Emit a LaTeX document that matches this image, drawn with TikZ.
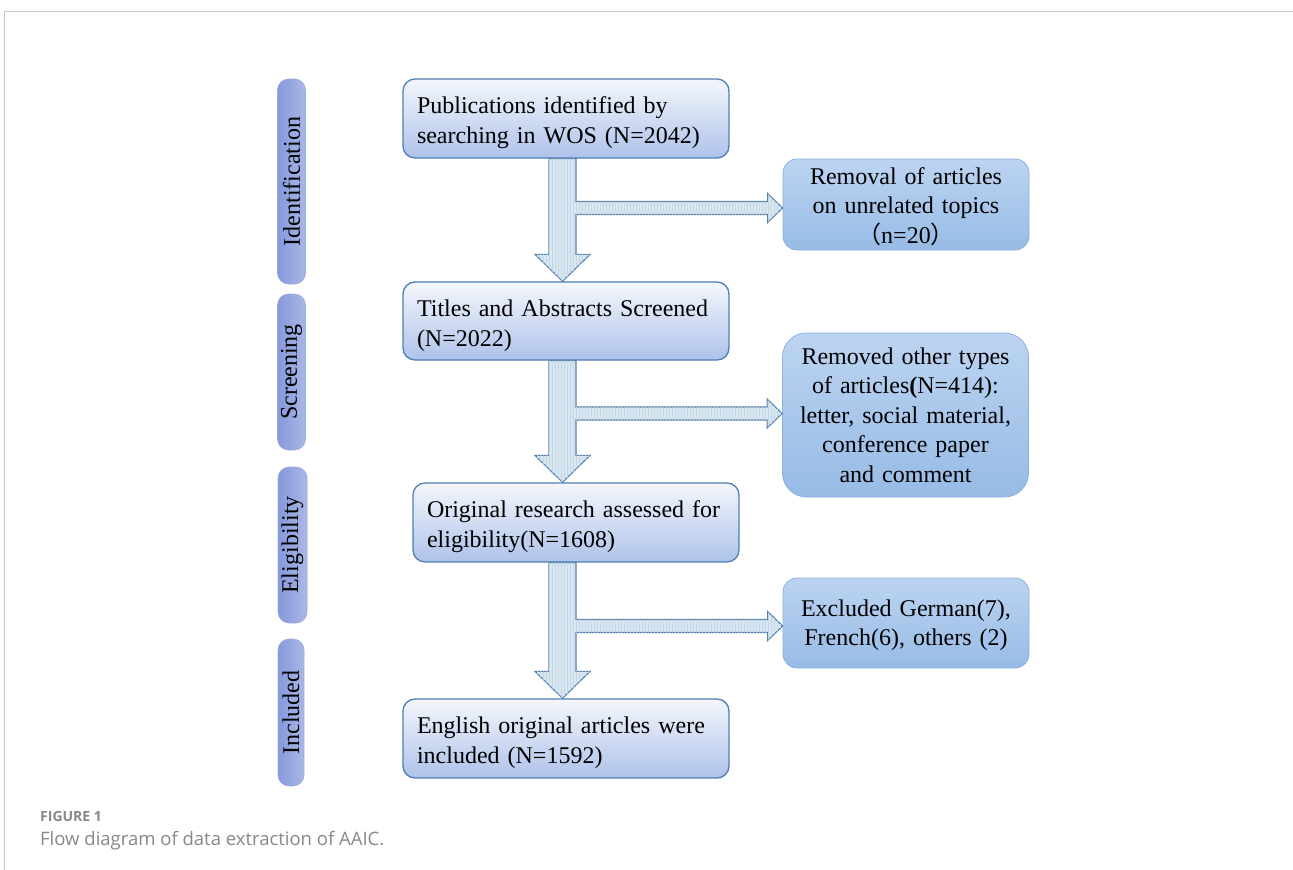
\documentclass[tikz,border=0pt]{standalone}
\usepackage{fontspec}
\setmainfont{Liberation Serif}
\newfontfamily\cjk{Noto Sans CJK SC}
\newfontfamily\capfont{Open Sans}
\usetikzlibrary{calc,patterns}
\definecolor{boxline}{HTML}{4F7FB4}
\definecolor{boxtop}{HTML}{F4F7FC}
\definecolor{boxbot}{HTML}{AEC2EA}
\definecolor{sideline}{HTML}{8AB0E0}
\definecolor{sidetop}{HTML}{BCD4F1}
\definecolor{sidebot}{HTML}{97BBE6}
\definecolor{pillline}{HTML}{9AAAE0}
\definecolor{pilltop}{HTML}{AAB8E6}
\definecolor{pillbot}{HTML}{8599DB}
\definecolor{arrline}{HTML}{5780AD}
\definecolor{arrfill}{HTML}{D9E7F0}
\definecolor{arrhatch}{HTML}{C4D7E6}
\definecolor{framec}{HTML}{C8C8C8}
\definecolor{capgray}{HTML}{888888}
\newcommand\flowarrow[3]{%
  \draw[blockarrow] ($(ax|-#1.south)+(-13.5,0)$) -- ($(ax|-#1.south)+(13.5,0)$)
    -- ($(ax|-#3)+(13.5,-6.5)$) -- ($(#3)+(-15,-6.5)$) -- ($(#3)+(-15,-14.5)$)
    -- (#3) -- ($(#3)+(-15,14.5)$) -- ($(#3)+(-15,6.5)$) -- ($(ax|-#3)+(13.5,6.5)$)
    -- ($(ax|-#2.north)+(13.5,-27)$) -- ($(ax|-#2.north)+(27.5,-27)$)
    -- (ax|-#2.north) -- ($(ax|-#2.north)+(-27.5,-27)$)
    -- ($(ax|-#2.north)+(-13.5,-27)$) -- cycle;}
\newcommand\toprule{\rule{0pt}{26pt}}
\begin{document}
\begin{tikzpicture}[x=1pt,y=-1pt,
  mainbox/.style={draw=boxline, line width=1.3pt, rounded corners=12pt,
    top color=boxtop, bottom color=boxbot, minimum width=326pt,
    minimum height=79pt, text width=298pt, align=left, inner sep=0pt,
    font=\fontsize{24}{30}\selectfont},
  sidebox/.style={draw=sideline, line width=0.8pt, rounded corners=14pt,
    top color=sidetop, bottom color=sidebot, minimum width=246pt,
    text width=236pt, align=center, inner sep=0pt,
    font=\fontsize{24}{29.5}\selectfont},
  pill/.style={draw=pillline, line width=0.6pt, rounded corners=11pt,
    right color=pilltop, left color=pillbot, rotate=90,
    minimum height=28pt, inner sep=0pt, font=\fontsize{24}{28}\selectfont},
  blockarrow/.style={draw=arrline, fill=arrfill, line width=1.1pt, line join=miter,
    postaction={pattern=vertical lines, pattern color=arrhatch}},
  caplabel/.style={anchor=base west, text=capgray, inner sep=0pt}]
\useasboundingbox (0,0) rectangle (1293,870);
\fill[white] (0,0) rectangle (1293,870);
\draw[framec, line width=0.8pt] (4,870) -- (4,11) -- (1293,11);

% stage pills
\node[pill, minimum width=205pt] (p1) at (291.5,181.5) {Identification};
\node[pill, minimum width=156pt] (p2) at (291.5,372) {Screening};
\node[pill, minimum width=156pt, minimum height=29pt] (p3) at (292.5,545) {Eligibility};
\node[pill, minimum width=147pt, minimum height=26pt] (p4) at (291,712.5) {Included};

% main boxes
\node[mainbox] (b1) at (566,118.5) {\mbox{\toprule Publications identified by}\\\mbox{searching in WOS (N=2042)}};
\node[mainbox, minimum height=78pt] (b2) at (566,321) {\mbox{\toprule Titles and Abstracts Screened}\\\mbox{(N=2022)}};
\node[mainbox] (b3) at (576,522.5) {\mbox{\toprule Original research assessed for}\\\mbox{eligibility(N=1608)}};
\node[mainbox] (b4) at (566,738.5) {\mbox{\toprule English original articles were}\\\mbox{included (N=1592)}};

% side boxes
\node[sidebox, minimum height=91pt] (s1) at (906,204.5) {\rule{0pt}{21pt}Removal of articles\\on unrelated topics\\{\cjk （}n=20{\cjk ）}};
\node[sidebox, minimum height=164pt, rounded corners=24pt] (s2) at (905.5,415) {Removed other types\\of articles\textbf{(}N=414):\\letter, social material,\\conference paper\\and comment};
\node[sidebox, minimum height=90pt] (s3) at (906,623) {\rule{0pt}{21pt}Excluded German(7),\\French(6), others (2)};

% arrows
\coordinate (ax) at (562.5,0);
\coordinate (t1) at ($(s1.west)+(0,3.5)$);
\coordinate (t2) at ($(s2.west)+(0,-1.5)$);
\coordinate (t3) at ($(s3.west)+(0,3)$);
\flowarrow{b1}{b2}{t1}
\flowarrow{b2}{b3}{t2}
\flowarrow{b3}{b4}{t3}

% caption
\node[caplabel, font=\capfont\bfseries\fontsize{14}{16}\selectfont] (figlab) at (40,821) {FIGURE 1};
\node[caplabel, font=\capfont\fontsize{18.5}{22}\selectfont] (figcap) at (40,845) {Flow diagram of data extraction of AAIC.};
\end{tikzpicture}
\end{document}
